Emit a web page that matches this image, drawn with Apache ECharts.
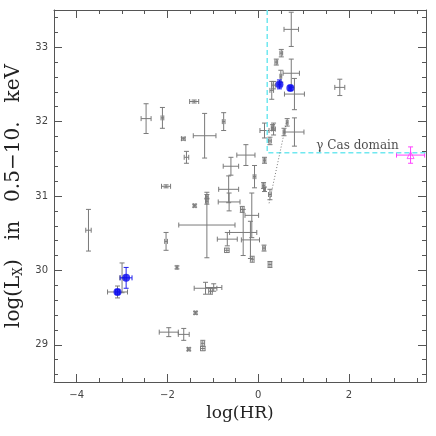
<!DOCTYPE html>
<html>
<head>
    <meta charset="utf-8">
</head>
<body style="margin:0">

<div id="main" style="width: 436px;height:436px;"></div>
<script src="https://cdn.jsdelivr.net/npm/echarts@6.0.0/dist/echarts.min.js"></script>
<script type="text/javascript">
    // measured sources: log(HR), log(Lx), and their half error bars
    var grayX    = [-2.47, -2.11, -1.41, -0.76, -1.65, -1.18, -1.58, -2.03, -0.60, -1.13, -0.27, 0.14, 0.34, 0.26, 0.14, 0.57, 0.64, 0.80, -0.08, -0.65, 0.14, 0.26, 0.73, 0.51, 0.40, 0.50, 0.73, 0.80, 0.30, 0.34, 1.80, 0.32, -1.40, -1.13, -1.13, -0.64, -0.35, -0.33, -0.17, -0.14, -0.68, -0.69, 0.13, 0.26, -0.13, -3.74, -2.03, -1.79, -3.00, -3.10, -1.16, -0.98, -1.05, -1.38, -1.97, -1.64, -1.53, -1.22, -1.22, 0.12];
    var grayY    = [32.04, 32.05, 32.27, 32.00, 31.77, 31.81, 31.52, 31.13, 31.40, 30.99, 31.55, 31.88, 31.90, 31.74, 31.48, 31.86, 31.99, 31.86, 31.26, 31.09, 31.09, 31.02, 33.24, 32.92, 32.80, 32.61, 32.65, 32.37, 32.42, 32.49, 32.46, 31.92, 30.87, 30.93, 30.61, 30.92, 30.82, 30.51, 30.41, 30.74, 30.42, 30.27, 30.30, 30.08, 30.15, 30.54, 30.39, 30.04, 29.90, 29.71, 29.76, 29.77, 29.72, 29.43, 29.17, 29.14, 28.94, 29.02, 28.95, 31.14];
    var grayXErr = [0.11, 0.03, 0.10, 0.03, 0.04, 0.25, 0.05, 0.10, 0.17, 0.03, 0.20, 0.10, 0.04, 0.03, 0.03, 0.02, 0.02, 0.21, 0.03, 0.22, 0.02, 0.03, 0.16, 0.03, 0.03, 0.02, 0.18, 0.22, 0.04, 0.04, 0.11, 0.03, 0.03, 0.03, 0.62, 0.24, 0.04, 0.30, 0.20, 0.15, 0.22, 0.05, 0.03, 0.04, 0.04, 0.06, 0.03, 0.02, 0.05, 0.22, 0.25, 0.18, 0.04, 0.03, 0.21, 0.12, 0.03, 0.04, 0.05, 0.03];
    var grayYErr = [0.20, 0.14, 0.02, 0.12, 0.02, 0.30, 0.08, 0.02, 0.12, 0.03, 0.14, 0.10, 0.08, 0.05, 0.04, 0.05, 0.05, 0.19, 0.15, 0.18, 0.03, 0.07, 0.23, 0.05, 0.04, 0.08, 0.19, 0.21, 0.12, 0.05, 0.11, 0.04, 0.02, 0.04, 0.44, 0.12, 0.04, 0.31, 0.25, 0.30, 0.09, 0.03, 0.04, 0.04, 0.04, 0.28, 0.12, 0.02, 0.20, 0.08, 0.08, 0.05, 0.04, 0.02, 0.06, 0.08, 0.02, 0.04, 0.03, 0.04];

    var blueX    = [-2.91, -3.10, 0.47, 0.71];
    var blueY    = [29.90, 29.71, 32.50, 32.45];
    var blueXErr = [0.13, 0.04, 0.03, 0.03];
    var blueYErr = [0.14, 0.03, 0.06, 0.03];

    var casX = [3.36], casY = [31.55], casXErr = [0.31], casYErr = [0.11];

    // gamma Cas domain boundary and dotted trend
    var domainX = [0.2, 0.2, 3.7];
    var domainY = [33.5, 31.58, 31.58];
    var trendX = [0.62, 0.24];
    var trendY = [31.98, 30.90];
    var domainLabel = [[2.19, 31.67]];

    var xMajorTicks = [-4, -2, 0, 2];
    var xMinorTicks = [-3.5, -3, -2.5, -1.5, -1, -0.5, 0.5, 1, 1.5, 2.5, 3, 3.5];
    var yMajorTicks = [29, 30, 31, 32, 33];
    var yMinorTicks = [28.6, 28.8, 29.2, 29.4, 29.6, 29.8, 30.2, 30.4, 30.6, 30.8, 31.2, 31.4, 31.6, 31.8, 32.2, 32.4, 32.6, 32.8, 33.2, 33.4];

    function zip4(a, b, c, d) {
        return a.map(function (v, i) { return [v, b[i], c[i], d[i]]; });
    }

    function errorBars(color) {
        return function (params, api) {
            var x = api.value(0), y = api.value(1), xe = api.value(2), ye = api.value(3);
            var c = api.coord([x, y]);
            var l = api.coord([x - xe, y]), r = api.coord([x + xe, y]);
            var t = api.coord([x, y + ye]), b = api.coord([x, y - ye]);
            var cap = 2.5;
            var st = {stroke: color, lineWidth: 1};
            return {
                type: 'group',
                children: [
                    {type: 'line', shape: {x1: l[0], y1: c[1], x2: r[0], y2: c[1]}, style: st},
                    {type: 'line', shape: {x1: c[0], y1: t[1], x2: c[0], y2: b[1]}, style: st},
                    {type: 'line', shape: {x1: l[0], y1: c[1] - cap, x2: l[0], y2: c[1] + cap}, style: st},
                    {type: 'line', shape: {x1: r[0], y1: c[1] - cap, x2: r[0], y2: c[1] + cap}, style: st},
                    {type: 'line', shape: {x1: c[0] - cap, y1: t[1], x2: c[0] + cap, y2: t[1]}, style: st},
                    {type: 'line', shape: {x1: c[0] - cap, y1: b[1], x2: c[0] + cap, y2: b[1]}, style: st}
                ]
            };
        };
    }

    function minus(v) {
        return String(v).replace('-', '\u2212');
    }

    var tickFont = {fontFamily: 'DejaVu Sans', fontSize: 10, color: '#444'};

    function xAx(pos, ticks, len, main) {
        return {
            type: 'value', position: pos, min: -4.5, max: 3.7,
            axisLine: {show: main, onZero: false, lineStyle: {color: '#555', width: 1}},
            axisTick: {inside: true, length: len, customValues: ticks, lineStyle: {color: '#555'}},
            axisLabel: Object.assign({show: main && pos === 'bottom', customValues: ticks, margin: 8, formatter: minus}, tickFont),
            splitLine: {show: false},
            name: main && pos === 'bottom' ? 'log(HR)' : '',
            nameLocation: 'middle', nameGap: 20,
            nameTextStyle: {fontFamily: 'DejaVu Serif', fontSize: 17, color: '#222'}
        };
    }
    function yAx(pos, ticks, len, main) {
        return {
            type: 'value', position: pos, min: 28.5, max: 33.5,
            axisLine: {show: main, onZero: false, lineStyle: {color: '#555', width: 1}},
            axisTick: {inside: true, length: len, customValues: ticks, lineStyle: {color: '#555'}},
            axisLabel: Object.assign({show: main && pos === 'left', customValues: ticks, margin: 6}, tickFont),
            splitLine: {show: false},
            name: main && pos === 'left' ? 'log(L{sub|X})   in   0.5\u221210.   keV' : '',
            nameLocation: 'middle', nameGap: 25,
            nameTextStyle: {
                fontFamily: 'DejaVu Serif', fontSize: 20, color: '#222',
                rich: {sub: {fontFamily: 'DejaVu Serif', fontSize: 12, color: '#222', verticalAlign: 'bottom', padding: [9, 0, 0, 0]}}
            }
        };
    }

    var option = {
        animation: false,
        grid: {left: 54, right: 10, top: 10, bottom: 54, containLabel: false, outerBoundsMode: 'none'},
        xAxis: [
            xAx('bottom', xMajorTicks, 8, true),
            xAx('bottom', xMinorTicks, 4, false),
            xAx('top', xMajorTicks, 8, true),
            xAx('top', xMinorTicks, 4, false)
        ],
        yAxis: [
            yAx('left', yMajorTicks, 8, true),
            yAx('left', yMinorTicks, 4, false),
            yAx('right', yMajorTicks, 8, true),
            yAx('right', yMinorTicks, 4, false)
        ],
        series: [
            {
                type: 'line', data: domainX.map(function (v, i) { return [v, domainY[i]]; }),
                symbol: 'none', lineStyle: {color: '#70e8f0', width: 1.5, type: [5, 3]}
            },
            {
                type: 'line', data: trendX.map(function (v, i) { return [v, trendY[i]]; }),
                symbol: 'none', lineStyle: {color: '#777', width: 1, type: [1, 2]}
            },
            {
                type: 'custom', renderItem: errorBars('#7a7a7a'),
                data: zip4(grayX, grayY, grayXErr, grayYErr)
            },
            {
                type: 'custom', renderItem: errorBars('#2020ee'),
                data: zip4(blueX, blueY, blueXErr, blueYErr)
            },
            {
                type: 'scatter', symbolSize: 8, itemStyle: {color: '#0a0af0'},
                data: blueX.map(function (v, i) { return [v, blueY[i]]; })
            },
            {
                type: 'custom', renderItem: errorBars('#ff40ff'),
                data: zip4(casX, casY, casXErr, casYErr)
            },
            {
                type: 'scatter', symbol: 'triangle', symbolSize: 7,
                itemStyle: {color: 'rgba(0,0,0,0)', borderColor: '#ff40ff', borderWidth: 1},
                data: casX.map(function (v, i) { return [v, casY[i]]; })
            },
            {
                type: 'scatter', symbolSize: 0, data: domainLabel,
                label: {
                    show: true, position: 'inside', formatter: '\u03b3 Cas domain',
                    fontFamily: 'DejaVu Serif', fontSize: 12, color: '#222'
                }
            }
        ]
    };
    var myChart = echarts.init(document.getElementById('main'));
    myChart.setOption(option);
</script>
</body>
</html>
